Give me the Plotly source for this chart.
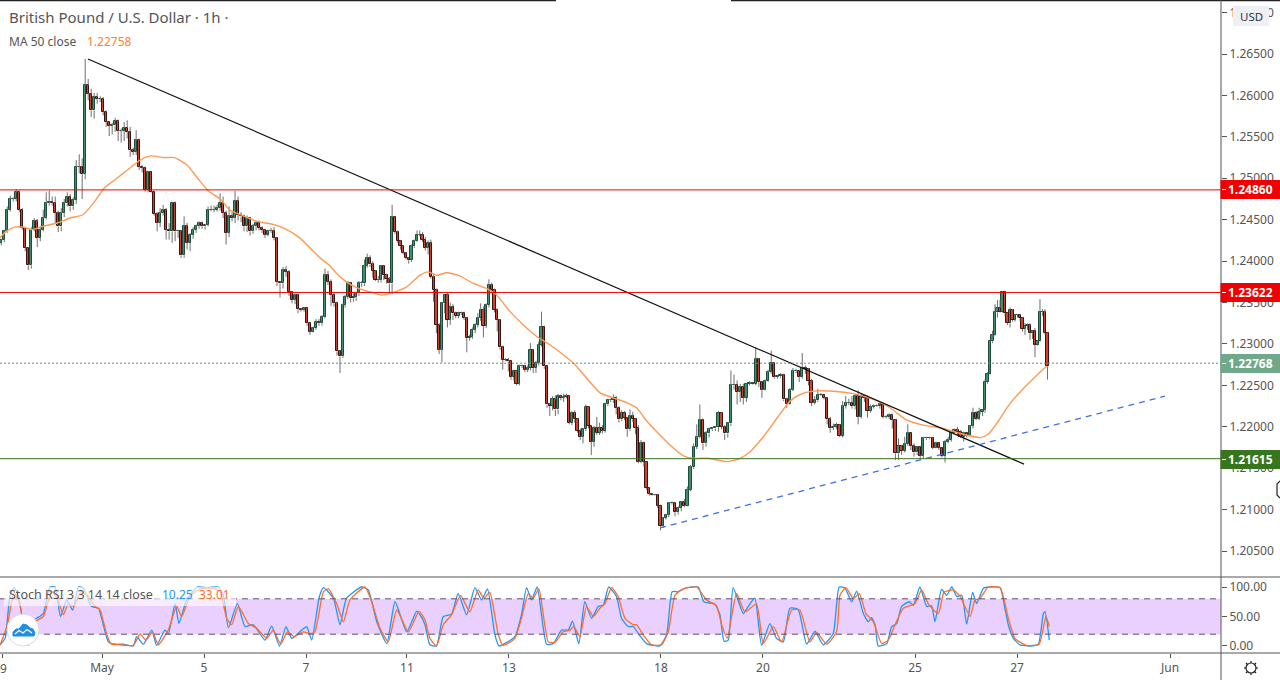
import numpy as np
import plotly.graph_objects as go

FONT = "Noto Sans"
closes = [
1.2426,1.2436,1.2462,1.2475,1.2475,1.2483,1.2462,1.2440,1.2416,1.2395,1.2438,1.2448,1.2428,1.2438,1.2452,1.2470,1.2471,1.2470,1.2458,1.2442,
1.2458,1.2470,1.2478,1.2466,1.2474,1.2514,1.2514,1.2505,1.2612,1.2602,1.2582,1.2598,1.2596,1.2596,1.2580,1.2568,1.2563,1.2564,1.2569,1.2557,
1.2557,1.2561,1.2556,1.2534,1.2532,1.2546,1.2514,1.2513,1.2486,1.2508,1.2483,1.2457,1.2446,1.2458,1.2462,1.2438,1.2436,1.2470,1.2436,1.2436,
1.2407,1.2442,1.2422,1.2432,1.2438,1.2442,1.2446,1.2442,1.2444,1.2462,1.2462,1.2462,1.2464,1.2470,1.2458,1.2434,1.2454,1.2452,1.2472,1.2456,
1.2454,1.2442,1.2452,1.2436,1.2442,1.2446,1.2440,1.2438,1.2432,1.2436,1.2436,1.2428,1.2375,1.2373,1.2389,1.2387,1.2363,1.2353,1.2359,1.2342,
1.2341,1.2343,1.2325,1.2315,1.2319,1.2327,1.2325,1.2333,1.2383,1.2375,1.2359,1.2349,1.2291,1.2285,1.2347,
1.2357,1.2373,1.2355,1.2357,1.2361,1.2373,1.2373,1.2394,1.2404,1.2396,1.2388,1.2377,1.2377,1.2394,1.2383,1.2378,1.2373,1.2453,1.2435,1.2424,
1.2418,1.2410,1.2404,1.2401,1.2418,1.2424,1.2432,1.2432,1.2426,1.2416,1.2422,1.2381,1.2365,1.2323,1.2293,1.2349,1.2359,1.2329,1.2345,1.2337,
1.2334,1.2337,1.2337,1.2331,1.2307,1.2309,1.2317,1.2323,1.2331,1.2341,1.2322,1.2347,1.2371,1.2365,1.2341,1.2329,1.2296,1.2281,1.2281,1.2279,
1.2260,1.2267,1.2252,1.2273,1.2273,1.2269,1.2271,1.2293,1.2271,1.2277,1.2299,1.2321,1.2273,1.2227,1.2225,1.2233,1.2221,1.2237,1.2235,1.2236,
1.2237,1.2205,1.2217,1.2209,1.2195,1.2188,1.2197,1.2224,1.2201,1.2182,1.2199,1.2193,1.2199,1.2195,1.2227,1.2232,1.2232,1.2235,1.2223,1.2209,
1.2217,1.2211,1.2197,1.2213,1.2209,1.2199,1.2158,1.2181,1.2158,1.2126,1.2119,1.2118,1.2118,1.2105,1.2080,1.2090,1.2094,1.2108,
1.2108,1.2097,1.2102,1.2109,1.2105,1.2124,1.2151,1.2176,1.2188,1.2208,1.2180,1.2192,1.2197,1.2198,1.2200,1.2217,1.2200,1.2192,1.2204,1.2250,
1.2251,1.2242,1.2248,1.2235,1.2252,1.2253,1.2252,1.2282,1.2254,1.2245,1.2255,1.2266,1.2277,1.2260,1.2261,1.2263,1.2233,1.2227,1.2245,1.2267,
1.2267,1.2260,1.2271,1.2270,1.2255,1.2229,1.2232,1.2239,1.2238,1.2235,1.2209,1.2199,1.2200,1.2202,1.2189,1.2225,1.2229,1.2229,1.2225,1.2237,
1.2212,1.2237,1.2235,1.2219,1.2224,1.2225,1.2225,1.2227,1.2212,1.2212,1.2214,1.2208,1.2168,1.2177,1.2171,1.2179,1.2192,1.2177,1.2169,1.2176,
1.2165,1.2186,1.2186,1.2186,1.2175,1.2180,1.2175,1.2165,1.2182,1.2184,1.2192,1.2196,1.2194,1.2188,1.2192,1.2189,1.2201,1.2217,1.2210,1.2218,
1.2218,1.2220,1.2254,1.2264,1.2303,1.2311,1.2338,1.2343,1.2339,1.2363,1.2337,1.2325,1.2341,1.2329,1.2335,1.2335,1.2331,1.2318,1.2322,1.2323,
1.2313,1.2316,1.2299,1.2303,1.2338,1.2338,1.2313,1.2273,1.2277]
upper_wick_pips = [
1,2,4,4,2,4,2,2,1,1,3,4,3,4,10,13,14,7,8,3,6,5,5,3,3,8,15,10,32,8,6,5,5,3,2,2,1,3,4,2,3,7,9,6,3,12,2,2,1,1,1,1,2,6,6,2,8,2,2,2,1,12,4,2,3,2,2,2,1,4,5,5,4,12,8,3,12,7,13,6,3,2,3,1,3,2,3,2,1,2,4,5,1,1,4,5,2,1,
2,1,1,1,1,1,2,3,3,2,8,5,3,3,2,1,2,
2,3,1,4,2,3,3,8,5,3,4,1,5,1,1,2,3,15,1,2,1,1,1,1,2,2,5,5,3,3,3,4,3,2,2,1,1,3,5,3,2,2,2,2,1,2,3,2,6,8,4,2,7,3,2,2,1,2,2,2,1,2,2,2,2,2,3,8,1,3,4,18,1,1,2,4,5,3,2,4,3,1,2,3,1,3,1,3,1,1,2,13,6,3,2,2,2,4,2,2,3,2,1,8,5,1,3,3,1,1,1,1,1,1,1,1,1,1,
2,1,2,1,4,4,3,4,15,19,2,3,2,2,1,2,1,2,1,18,12,5,4,4,1,2,1,14,1,1,2,3,15,1,1,2,1,2,2,4,3,2,18,3,1,3,5,7,2,1,1,3,4,3,1,6,8,5,8,3,7,4,2,3,3,2,2,2,2,2,2,2,1,9,1,9,11,1,3,1,1,1,2,2,1,2,1,1,2,4,3,2,4,2,2,1,1,6,2,5,
1,1,3,2,2,5,10,10,10,1,1,1,3,1,1,1,1,1,3,2,2,1,3,1,16,4,4,1,4]
lower_wick_pips = [
3,3,2,2,3,3,3,2,4,6,4,2,11,4,2,2,3,3,12,7,6,5,4,6,4,5,8,30,6,8,8,10,6,4,4,6,12,10,8,12,14,12,8,8,4,4,4,6,2,3,1,2,10,5,3,12,10,14,12,8,3,3,8,10,5,4,3,3,4,2,2,3,2,3,6,14,5,4,6,7,7,6,7,5,3,5,3,4,4,2,2,3,5,17,6,6,5,4,
5,5,2,2,3,4,1,2,3,3,2,4,13,4,5,20,2,
3,3,5,4,5,3,4,3,2,3,8,1,3,3,6,5,12,13,2,2,4,2,2,4,2,2,1,2,3,3,8,2,14,10,5,15,12,9,6,8,3,3,2,2,17,3,3,4,3,3,14,3,3,3,3,14,3,12,2,12,3,4,2,2,2,3,3,3,6,6,3,2,3,4,12,5,8,6,3,5,2,2,3,4,2,4,8,2,3,16,6,3,3,3,2,2,2,3,8,4,2,3,9,2,3,8,2,2,6,2,2,1,1,3,5,2,2,3,
2,5,3,4,2,1,2,2,3,2,8,4,5,2,3,6,3,8,5,3,5,15,12,8,5,2,1,2,6,10,1,1,2,2,2,2,2,4,1,2,2,6,2,6,5,4,2,2,1,2,6,6,3,3,1,2,3,3,3,4,9,2,5,8,2,2,1,3,2,2,3,10,8,8,5,2,2,5,5,3,3,3,2,1,2,1,3,2,8,2,2,1,5,1,6,2,1,3,2,
2,3,5,3,2,1,2,1,6,1,1,3,2,5,2,2,3,3,3,7,5,8,7,15,1,1,4,2,16]
# Hour offsets (1 hour = 1 axis unit) at which each read run of bars starts/ends, with its bar count
run_start_hour = [0.6, 162.4, 316.2, 461.2]
run_end_hour = [161.4, 314.7, 460.8, 494.1]
run_bars = [115, 118, 100, 29]

ma_hours = [0,3,7,11,15,20,27,33,39,44,49,54,60,66,71,77,82,88,93,98,104,108,115,121,129,135,141,151,155,158.4,163,168.6,174,179.6,183.5,191.4,197.7,201.6,205.5,210.2,216.5,222.8,229,233.7,240,246.3,252.6,258.8,265,269.8,276,282.4,288.6,295,299.6,304.3,310.6,315.3,321.6,326.3,333.4,342,348.3,353,359.2,365.5,371.8,376.5,382.8,392.2,401.6,411,418.8,426.7,434.5,444,451.8,461.2,465,469,475.3,481.5,487.8,492.5]
ma_values = [1.2428,1.2436,1.2441,1.2441,1.2438,1.2442,1.2446,1.2452,1.2456,1.2470,1.2488,1.2498,1.2510,1.2522,1.2527,1.2525,1.2525,1.2516,1.2500,1.2485,1.2474,1.2462,1.2454,1.2448,1.2444,1.2438,1.2428,1.2403,1.2395,1.2385,1.2375,1.2367,1.2363,1.2359,1.2361,1.2369,1.2383,1.2387,1.2383,1.2386,1.2382,1.2373,1.2367,1.2359,1.2339,1.2323,1.2309,1.2299,1.2287,1.2277,1.2259,1.2241,1.2235,1.2229,1.2223,1.2207,1.2190,1.2178,1.2165,1.2162,1.2162,1.2158,1.2162,1.2170,1.2188,1.2210,1.2231,1.2239,1.2243,1.2243,1.2240,1.2233,1.2223,1.2208,1.2202,1.2198,1.2192,1.2187,1.2191,1.2204,1.2228,1.2246,1.2262,1.2273]

k_hours = [0,2.4,4.7,6.6,8.6,10.2,11.8,13.3,14.9,17.3,20.4,23.5,25.9,28.5,31.4,34.2,36.9,39.2,43.1,46.3,48.6,51,54.1,58,62.7,64.3,67.5,71.4,73.7,77.6,79.2,82.4,84.2,87.8,92.9,97.3,102.7,105.1,107.5,111.7,115.3,119.2,124.7,127.8,131.5,134.6,137.3,142,144.3,146.7,150.3,152.2,156.9,160,163.1,170.2,173.3,177.3,182,185.9,191.4,196.1,
197.6,200,202.3,205.4,208.6,212.5,215.6,219.6,223.5,226.6,229.4,232.9,234.8,242.3,245.4,247.8,250.1,252.8,257.2,260.3,264.3,267.4,269.4,272.4,275.2,278.4,281.5,283.9,286.4,290.1,292.5,295.6,298,300.8,304.3,310.5,313.7,316.3,319.2,323.1,328.6,331.2,336.4,338.8,340.7,342.7,345,349.8,352.1,355.2,358.4,362.3,365.4,368.6,371.7,375.6,379.6,383.5,387.4,392.1,394.9,
397.7,400.8,403.1,406.3,408.6,410.2,411.8,413.3,417.3,419.6,422,424.3,427.9,429.8,432.9,436.1,438.4,440,443.1,445.5,447.9,450.2,452.6,454.9,457.7,459.6,462.8,465.9,470.6,472.9,474.5,476.9,480,484.7,488.6,491,491.8,493.8]
k_values = [2,13,86,99,86,53,7,1,41,47,55,100,100,50,78,61,100,98,67,64,36,7,3,3,0,16,3,27,1,27,20,72,38,78,100,99,100,86,31,72,33,36,10,34,0,33,13,27,33,10,84,99,81,36,81,100,95,41,4,75,24,59,
53,36,2,0,50,54,89,53,99,78,97,19,0,16,53,99,78,100,3,4,27,27,42,4,75,47,67,69,100,84,47,33,33,19,4,0,19,92,92,99,100,75,71,53,8,10,99,55,67,81,1,38,13,7,64,62,3,25,2,21,100,
98,75,93,55,41,48,36,0,4,33,38,67,75,69,100,67,68,41,96,86,100,84,86,37,91,72,98,100,99,64,36,13,2,0,3,55,58,10]
d_hours = [0,3.5,6.6,9.4,11.8,14.1,16.5,20.4,24.3,27,29.8,32.2,34.8,38,41.1,44.7,47.1,49.9,52.1,56.5,62.7,65.9,68.7,71.8,74.5,79.2,83.1,85.5,89.4,94.1,100.4,103.5,106.7,109,112.2,116.9,120.8,125.5,128.6,132.1,135.2,138.4,142.7,145.9,148.2,152.2,154.5,158.4,161.6,164.7,171.8,174.9,178.8,182.7,186.7,192.2,196.9,
197.6,200,202.3,205.4,208.6,212.5,216.7,221.1,225,227.7,230.5,234.5,236.8,242.3,245.4,248.6,250.9,253.6,258,261.1,265,268.2,270.1,272.9,276,279.2,282.3,284.7,287.8,290.9,294.1,298,299.6,303,306.6,311.3,314.5,317.6,321.5,327.8,332.5,337.2,339.6,342.2,346.6,350.5,356,359.2,363.9,367.8,372.5,376.4,381.1,384.3,389,393.7,
395.3,398.1,401.6,404.4,407.5,411,414.9,418,421.2,425.1,430.6,433.7,436.9,441.6,444.2,448.6,451.8,456.5,458.8,461.2,465.1,470.6,474.5,477.6,483.1,489,492.2,493.8]
d_values = [1,36,92,69,21,7,41,50,92,81,53,72,67,92,86,67,61,24,4,2,1,20,10,24,2,27,67,50,84,97,98,92,47,36,67,38,30,13,27,3,24,16,24,21,24,92,97,72,41,78,100,75,30,7,61,24,58,
58,44,13,0,36,53,86,58,95,81,91,19,1,13,47,89,81,97,7,6,24,27,33,16,67,50,64,72,99,84,47,36,36,17,2,2,24,86,97,100,78,68,36,13,89,58,71,4,33,7,61,61,7,23,3,24,
86,99,80,89,55,41,4,10,36,64,72,95,71,55,91,95,84,50,78,81,100,99,47,13,1,3,50,33]

resistance_levels = [1.24860, 1.23622]
support_level = 1.21615
last_close = 1.22768
downtrend_hours = [41.4, 481.9]
downtrend_prices = [1.2644, 1.2155]
uptrend_hours = [310.6, 548.2]
uptrend_prices = [1.2078, 1.2237]
price_ticks = [1.205,1.21,1.215,1.22,1.225,1.23,1.235,1.24,1.245,1.25,1.255,1.26,1.265,1.27]
price_tick_labels = ["1.20500","1.21000","1.21500","1.22000","1.22500","1.23000","1.23500","1.24000","1.24500","1.25000","1.25500","1.26000","1.26500","1.27000"]
time_ticks = [1,48,96,144,191.5,239.5,311,359,430.6,478.6,550.6]
time_labels = ["","May","5","7","11","13","18","20","25","27","Jun"]
first_time_label = "9"

# ---- derived bars
hours = np.concatenate([np.linspace(a, b, n) for a, b, n in zip(run_start_hour, run_end_hour, run_bars)])
c = np.array(closes)
n = min(len(c), len(hours), len(upper_wick_pips), len(lower_wick_pips))
c, hours = c[:n], hours[:n]
o = np.r_[c[0] - 0.0004, c[:-1]]
top = np.maximum(o, c)
bot = np.minimum(o, c)
hi = top + np.array(upper_wick_pips[:n]) * 1e-4
lo = bot - np.array(lower_wick_pips[:n]) * 1e-4
up = c >= o

W, H = 1280, 680
def fx(px): return px / W
def fy(py): return 1 - py / H

GRAY = "#555555"
fig = go.Figure()
wx, wy = [], []
for h, a, b, t, l in zip(hours, hi, top, bot, lo):
    wx += [h, h, None, h, h, None]
    wy += [a, b, None, t, l, None]
fig.add_trace(go.Scatter(x=wx, y=wy, mode="lines", line=dict(color="#6e6e6e", width=1), hoverinfo="skip", connectgaps=False))
for mask, fill, edge in ((up, "#3f8f6b", "#1d4d3a"), (~up, "#d0402e", "#3c1210")):
    fig.add_trace(go.Bar(x=hours[mask], y=(top - bot)[mask], base=bot[mask], width=1.05,
                         marker=dict(color=fill, line=dict(color=edge, width=1)), hoverinfo="skip"))
fig.add_trace(go.Scatter(x=ma_hours, y=ma_values, mode="lines", line=dict(color="#ff9a52", width=1.4, shape="spline", smoothing=0.6), hoverinfo="skip"))
fig.add_trace(go.Scatter(x=downtrend_hours, y=downtrend_prices, mode="lines", line=dict(color="#111111", width=1.2), hoverinfo="skip"))
fig.add_trace(go.Scatter(x=uptrend_hours, y=uptrend_prices, mode="lines", line=dict(color="#3f73dc", width=1.3, dash="6px,5px"), hoverinfo="skip"))
fig.add_trace(go.Scatter(x=k_hours, y=k_values, yaxis="y2", mode="lines", line=dict(color="#2196f3", width=1.3, shape="spline", smoothing=0.5), hoverinfo="skip"))
fig.add_trace(go.Scatter(x=d_hours, y=d_values, yaxis="y2", mode="lines", line=dict(color="#ff6d2a", width=1.3, shape="spline", smoothing=0.5), hoverinfo="skip"))

shapes = []
def hline(py, color, x0=0, x1=W, width=1, dash="solid"):
    shapes.append(dict(type="line", xref="paper", yref="paper", x0=fx(x0), x1=fx(x1), y0=fy(py), y1=fy(py),
                       line=dict(color=color, width=width, dash=dash)))
def rect(x0, y0, x1, y1, fill, layer="above", opacity=1):
    shapes.append(dict(type="rect", xref="paper", yref="paper", x0=fx(x0), x1=fx(x1), y0=fy(y0), y1=fy(y1),
                       fillcolor=fill, line=dict(width=0), layer=layer, opacity=opacity))
def path(d_pts, color, fill=None, width=1.2, close=False):
    s = "M " + " L ".join(f"{fx(a):.5f},{fy(b):.5f}" for a, b in d_pts) + (" Z" if close else "")
    shapes.append(dict(type="path", xref="paper", yref="paper", path=s, line=dict(color=color, width=width),
                       fillcolor=fill or "rgba(0,0,0,0)"))

shapes.append(dict(type="rect", xref="paper", yref="y2", x0=0, x1=fx(1221), y0=20, y1=80, fillcolor="#e9d0ff",
                   line=dict(width=0), layer="below"))
for lvl in (20, 80):
    shapes.append(dict(type="line", xref="paper", yref="y2", x0=0, x1=fx(1221), y0=lvl, y1=lvl,
                       line=dict(color="#5f5070", width=1, dash="6px,5px")))
for lvl in resistance_levels:
    shapes.append(dict(type="line", xref="paper", yref="y", x0=0, x1=fx(1221), y0=lvl, y1=lvl, line=dict(color="#f00000", width=1)))
shapes.append(dict(type="line", xref="paper", yref="y", x0=0, x1=fx(1221), y0=support_level, y1=support_level, line=dict(color="#3b6e1e", width=1)))
shapes.append(dict(type="line", xref="paper", yref="y", x0=0, x1=fx(1221), y0=last_close, y1=last_close, line=dict(color="#5f8f7a", width=1, dash="2px,2px")))
hline(0.5, "#222222", 0, 556, 1.5)
hline(0.5, "#222222", 731, W, 1.5)
hline(577, "#555555")
hline(653, "#555555")
path([(1221, 0), (1221, 680)], "#555555", width=1)
flag_rows = [(resistance_levels[0], "#f00000", 180, 199), (resistance_levels[1], "#f00000", 283, 302),
             (last_close, "#6fa98a", 354, 373), (support_level, "#38761d", 450, 469)]
for lvl, col, y0, y1 in flag_rows:
    rect(1220.5, y0, W, y1, col)
    hline((y0 + y1) / 2, "#ffffff", 1222, 1226)
shapes.append(dict(type="path", xref="paper", yref="paper",
    path="M {},{} L {},{} L {},{} L {},{} Z".format(fx(1234), fy(7), fx(1268), fy(7), fx(1268), fy(25), fx(1234), fy(25)),
    fillcolor="#eef0f6", line=dict(color="#eef0f6", width=2)))
rect(4, 587, 236, 606, "rgba(255,255,255,0.62)")
shapes.append(dict(type="circle", xref="paper", yref="paper", x0=fx(7), x1=fx(39), y0=fy(646), y1=fy(614),
                   fillcolor="#ffffff", line=dict(color="#dddddd", width=1)))
path([(13,636),(13,632),(16,629),(19,629),(23,624),(27,625),(30,628),(33,629),(35,633),(34,636)], "#1f8fe6", fill="#1f8fe6", width=1, close=True)
path([(15,634),(19,630.5),(23,633),(27,629.5),(32,633)], "#ffffff", width=1.2)
shapes.append(dict(type="circle", xref="paper", yref="paper", x0=fx(1246), x1=fx(1256), y0=fy(673), y1=fy(663),
                   fillcolor="#ffffff", line=dict(color="#222222", width=1.2)))
for a, b, c2, d2 in [(1251,661,1251,663),(1251,673,1251,675),(1244,668,1246,668),(1256,668,1258,668),(1246,663,1247.5,664.5),(1256,663,1254.5,664.5),(1246,673,1247.5,671.5),(1256,673,1254.5,671.5)]:
    path([(a,b),(c2,d2)], "#222222", width=1.2)
path([(1280,481),(1277,484),(1277,495),(1280,498)], "#222222", width=1.2)

ann = []
def text(px, py, s, color=GRAY, size=12, anchor="left", bold=False):
    ann.append(dict(xref="paper", yref="paper", x=fx(px), y=fy(py), text=f"<b>{s}</b>" if bold else s, showarrow=False,
                    xanchor=anchor, yanchor="middle", font=dict(family=FONT, size=size, color=color), borderpad=0, borderwidth=0))
text(9, 17, "British Pound / U.S. Dollar · 1h ·", size=15)
text(9, 41, "MA 50 close", size=12)
text(87, 41, f"{ma_values[-1] + 0.00028:.5f}", color="#ff7f2a", size=12)
text(9, 594, "Stoch RSI 3 3 14 14 close", size=12.5)
text(162, 594, f"{k_values[-1] + 0.25:.2f}", color="#2196f3", size=12)
text(199, 594, f"{d_values[-1] + 0.01:.2f}", color="#ff6d2a", size=12)
text(1251, 16, "USD", color="#333333", size=11.5, anchor="center")
text(0, 668, first_time_label, size=12)
for lvl, col, y0, y1 in flag_rows:
    text(1250, (y0 + y1) / 2, f"{lvl:.5f}", color="#ffffff", size=12, anchor="center", bold=True)

fig.update_layout(
    width=W, height=H, margin=dict(l=0, r=0, t=0, b=0), autosize=False, showlegend=False,
    plot_bgcolor="#ffffff", paper_bgcolor="#ffffff", barmode="overlay", bargap=0,
    font=dict(family=FONT, color=GRAY, size=12),
    shapes=shapes, annotations=ann,
    xaxis=dict(domain=[0, 1221 / W], range=[0, 1221 / 2.125], anchor="y2", showgrid=False, zeroline=False, showline=False,
               ticks="outside", ticklen=4, tickcolor="#555555", tickvals=time_ticks, ticktext=time_labels,
               tickfont=dict(family=FONT, size=12, color=GRAY)),
    yaxis=dict(domain=[1 - 577 / H, 1], range=[1.20187, 1.27152], side="right", anchor="x", showgrid=False, zeroline=False,
               ticks="outside", ticklen=5, tickcolor="#555555", tickvals=price_ticks, ticktext=price_tick_labels,
               tickfont=dict(family=FONT, size=12, color=GRAY), showline=False),
    yaxis2=dict(domain=[1 - 653 / H, 1 - 577 / H], range=[-11.9, 117], side="right", anchor="x", showgrid=False, zeroline=False,
                ticks="outside", ticklen=5, tickcolor="#555555", tickvals=[0, 50, 100], ticktext=["0.00", "50.00", "100.00"],
                tickfont=dict(family=FONT, size=12, color=GRAY), showline=False),
)
fig.write_html("out.html", config={"displayModeBar": False},
               post_script="document.body.style.margin='0';document.body.style.overflow='hidden';")
